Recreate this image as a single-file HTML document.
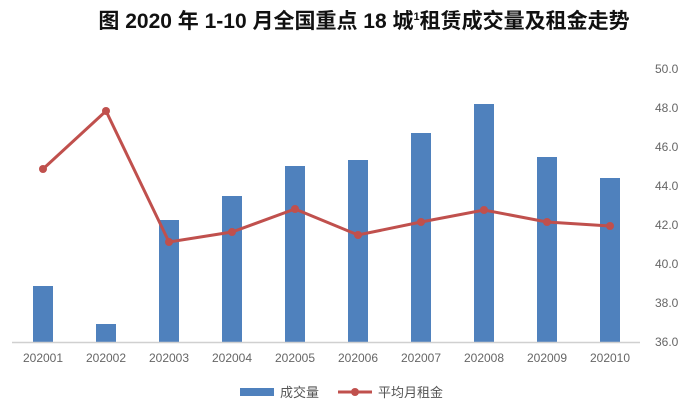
<!DOCTYPE html>
<html><head><meta charset="utf-8"><style>
body{margin:0;background:#fff;width:700px;height:407px;overflow:hidden;font-family:"Liberation Sans","Noto Sans CJK SC",sans-serif}
</style></head><body>
<svg width="700" height="407" xmlns="http://www.w3.org/2000/svg" font-family="Liberation Sans, Noto Sans CJK SC, sans-serif">
<text x="364" y="28" text-anchor="middle" font-size="21" font-weight="bold" fill="#111">图  2020 年 1-10 月全国重点 18 城<tspan font-size="11" dy="-8">1</tspan><tspan dy="8">租赁成交量及租金走势</tspan></text>
<g fill="#4f81bd">
<rect x="33" y="286" width="20" height="56"/>
<rect x="96" y="324" width="20" height="18"/>
<rect x="159" y="220" width="20" height="122"/>
<rect x="222" y="196" width="20" height="146"/>
<rect x="285" y="166" width="20" height="176"/>
<rect x="348" y="160" width="20" height="182"/>
<rect x="411" y="133" width="20" height="209"/>
<rect x="474" y="104" width="20" height="238"/>
<rect x="537" y="157" width="20" height="185"/>
<rect x="600" y="178" width="20" height="164"/>
</g>
<line x1="12" y1="342.5" x2="640" y2="342.5" stroke="#d0d0d0" stroke-width="1.5"/>
<polyline fill="none" stroke="#c0504d" stroke-width="3" points="43,169 106,111 169,242 232,232 295,209 358,235 421,222 484,210 547,222 610,226"/>
<g fill="#c0504d">
<circle cx="43" cy="169" r="4"/><circle cx="106" cy="111" r="4"/><circle cx="169" cy="242" r="4"/><circle cx="232" cy="232" r="4"/><circle cx="295" cy="209" r="4"/><circle cx="358" cy="235" r="4"/><circle cx="421" cy="222" r="4"/><circle cx="484" cy="210" r="4"/><circle cx="547" cy="222" r="4"/><circle cx="610" cy="226" r="4"/>
</g>
<g font-size="12" fill="#666" text-anchor="middle">
<text x="43" y="362">202001</text><text x="106" y="362">202002</text><text x="169" y="362">202003</text><text x="232" y="362">202004</text><text x="295" y="362">202005</text><text x="358" y="362">202006</text><text x="421" y="362">202007</text><text x="484" y="362">202008</text><text x="547" y="362">202009</text><text x="610" y="362">202010</text>
</g>
<g font-size="12" fill="#666">
<text x="655" y="73">50.0</text><text x="655" y="112">48.0</text><text x="655" y="151">46.0</text><text x="655" y="190">44.0</text><text x="655" y="229">42.0</text><text x="655" y="268">40.0</text><text x="655" y="307">38.0</text><text x="655" y="346">36.0</text>
</g>
<rect x="240" y="388" width="34" height="8" fill="#4f81bd"/>
<text x="280" y="397" font-size="13" fill="#555">成交量</text>
<line x1="338" y1="392" x2="372" y2="392" stroke="#c0504d" stroke-width="3"/>
<circle cx="355" cy="392" r="4" fill="#c0504d"/>
<text x="378" y="397" font-size="13" fill="#555">平均月租金</text>
</svg>
</body></html>
